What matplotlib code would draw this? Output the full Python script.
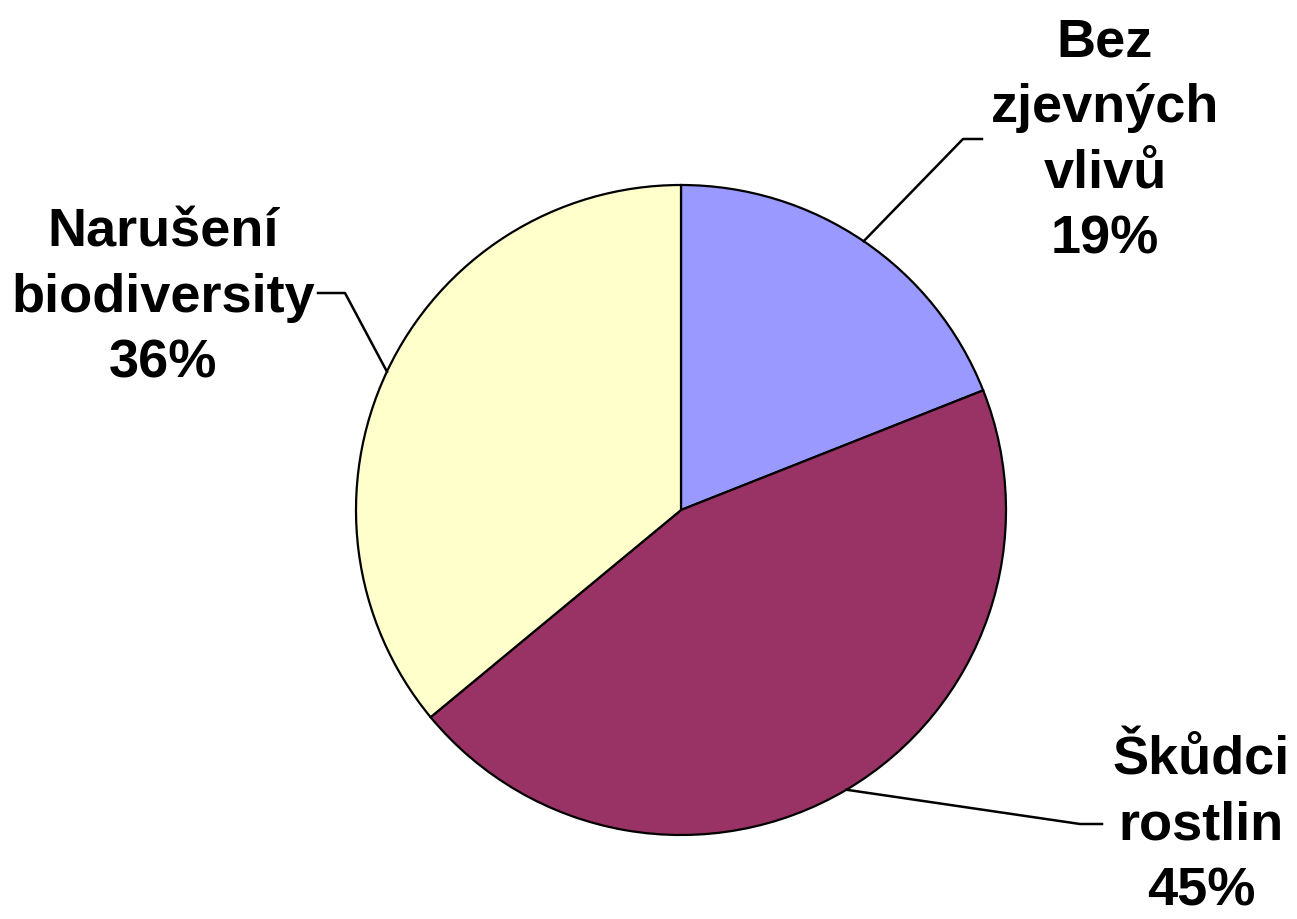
import numpy as np
import matplotlib.pyplot as plt

labels = ["Bez\nzjevných\nvlivů", "Škůdci\nrostlin", "Narušení\nbiodiversity"]
values = [19, 45, 36]
colors = ["#9999FF", "#993366", "#FFFFCC"]

# label text centres and leader elbow points, in pixels from the top-left
label_pos = [(1105, 141), (1201, 826), (163, 298)]
elbows = [(963, 140), (1080, 825), (345, 294)]
ends = [(982, 140), (1102, 825), (318, 294)]

W, H = 1297, 920
cx, cy, r = 681, 511, 325

fig = plt.figure(figsize=(W / 100, H / 100), dpi=100)
ax = fig.add_axes([0, 0, 1, 1])
ax.axis('off')

wedges, _ = ax.pie(values, colors=colors, startangle=90, counterclock=False,
                   center=(cx, H - cy), radius=r,
                   wedgeprops=dict(edgecolor='black', linewidth=1.6))
ax.set_xlim(0, W)
ax.set_ylim(0, H)
ax.set_aspect('equal')

for w, lab, v, (tx, ty), (ex, ey), (fx, fy) in zip(wedges, labels, values,
                                                    label_pos, elbows, ends):
    ang = np.deg2rad((w.theta1 + w.theta2) / 2)
    sx = cx + r * np.cos(ang)
    sy = (H - cy) + r * np.sin(ang)
    ax.plot([sx, ex, fx], [sy, H - ey, H - fy], color='black', lw=1.8)
    ax.text(tx, H - ty, f"{lab}\n{v}%", ha='center', va='center',
            fontsize=39, fontweight='bold', family='Liberation Sans',
            linespacing=1.4)

fig.savefig("out.png", dpi=100)
